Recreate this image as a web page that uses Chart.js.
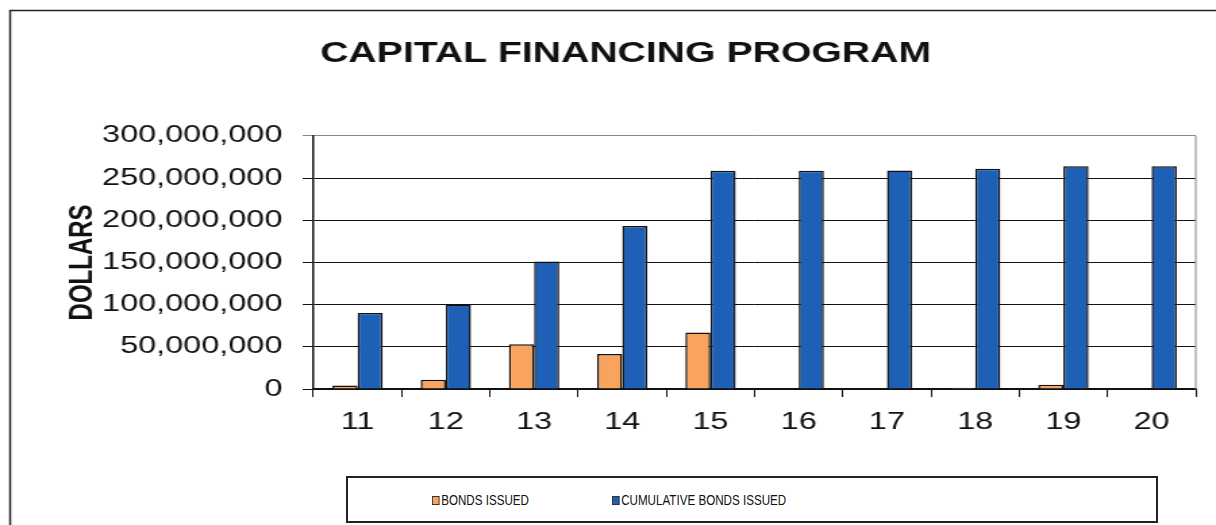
<!DOCTYPE html>
<html>
<head>
<meta charset="utf-8">
<script src="https://cdn.jsdelivr.net/npm/chart.js@4.4.1/dist/chart.umd.min.js"></script>
<style>
  html, body { margin: 0; padding: 0; background: #fff; }
  #wrap { position: relative; width: 1216px; height: 525px; overflow: hidden; }
  #chart { position: absolute; left: 0; top: 0; }
  #legend {
    position: absolute; left: 346px; top: 476px; width: 808px; height: 43px;
    border: 2px solid #222; background: #fff;
    font-family: 'Liberation Sans', Arial, sans-serif; font-size: 14px; color: #111;
  }
  #legend .item {
    display: flex; align-items: center; position: absolute; top: 14px;
    transform: scaleX(0.83); transform-origin: left center; white-space: nowrap;
  }
  #legend .box { width: 7px; height: 7px; border: 1.5px solid #333; margin-right: 2px; }
</style>
</head>
<body>
<div id="wrap">
  <!-- the original picture is stretched sideways, so the canvas is drawn narrow and widened -->
  <canvas id="chart" width="900" height="525" style="width:1216px;height:525px"></canvas>
  <div id="legend"></div>
</div>
<script>
const years = ['11', '12', '13', '14', '15', '16', '17', '18', '19', '20'];
const bondsIssued = [4000000, 11000000, 53000000, 41500000, 67000000, 0, 0, 1500000, 5000000, 0];
const cumulativeBonds = [90000000, 100000000, 151000000, 193000000, 258500000, 258500000, 259000000, 261000000, 264000000, 264000000];
const seriesNames = ['BONDS ISSUED', 'CUMULATIVE BONDS ISSUED'];
const seriesColors = ['#f8a35e', '#1d60b6'];
const yMax = 300000000;
const yStep = 50000000;

const font = "'Liberation Sans', Arial, sans-serif";

// frame round the whole chart and the grey right edge of the plot
const framePlugin = {
  id: 'frame',
  beforeDraw(chart) {
    const ctx = chart.ctx;
    ctx.save();
    ctx.fillStyle = '#fff';
    ctx.fillRect(0, 0, chart.width, chart.height);
    ctx.restore();
  },
  afterDraw(chart) {
    const ctx = chart.ctx;
    const a = chart.chartArea;
    ctx.save();
    ctx.strokeStyle = '#888';
    ctx.lineWidth = 1;
    ctx.beginPath();
    ctx.moveTo(a.right, a.top);
    ctx.lineTo(a.right, a.bottom);
    ctx.stroke();
    ctx.strokeStyle = '#222';
    ctx.lineWidth = 1.5;
    ctx.beginPath();
    ctx.moveTo(7.5, chart.height + 5);
    ctx.lineTo(7.5, 10.5);
    ctx.lineTo(chart.width + 5, 10.5);
    ctx.stroke();
    ctx.restore();
  }
};

const ctx = document.getElementById('chart').getContext('2d');
const chart = new Chart(ctx, {
  type: 'bar',
  data: {
    labels: years,
    datasets: [
      {
        label: seriesNames[0],
        data: bondsIssued,
        backgroundColor: seriesColors[0],
        borderColor: '#111',
        borderWidth: 1.5,
      },
      {
        label: seriesNames[1],
        data: cumulativeBonds,
        backgroundColor: seriesColors[1],
        borderColor: '#111',
        borderWidth: 1.5,
      },
    ],
  },
  options: {
    responsive: false,
    animation: false,
    devicePixelRatio: 1,
    layout: { padding: { left: 41, right: 15, top: 0, bottom: 0 } },
    datasets: { bar: { categoryPercentage: 0.57, barPercentage: 1 } },
    plugins: {
      legend: { display: false },
      tooltip: { enabled: false },
      title: {
        display: true,
        text: 'CAPITAL FINANCING PROGRAM',
        color: '#111',
        font: { family: font, size: 29, weight: 'bold' },
        padding: { top: 37, bottom: 64 },
      },
    },
    scales: {
      x: {
        grid: { drawOnChartArea: false, drawTicks: true, tickLength: 8, color: '#111', lineWidth: 1 },
        border: { color: '#111', width: 1.5 },
        ticks: { color: '#111', font: { family: font, size: 24 }, padding: 11 },
        afterFit: (s) => { s.height = 136; },
      },
      y: {
        min: 0,
        max: yMax,
        ticks: {
          stepSize: yStep,
          color: '#111',
          font: { family: font, size: 24 },
          padding: 15,
          callback: (v) => v.toLocaleString('en-US'),
        },
        grid: {
          color: (c) => (c.tick && c.tick.value === yMax ? '#888' : '#111'),
          lineWidth: 1,
          tickLength: 8,
        },
        border: { color: '#111', width: 1.5 },
        title: {
          display: true,
          text: 'DOLLARS',
          color: '#111',
          font: { family: font, size: 24, weight: 'bold' },
          padding: { top: 6, bottom: 0 },
        },
        afterFit: (s) => { s.width = 191; },
      },
    },
  },
  plugins: [framePlugin],
});

// legend box under the chart, built from the dataset names and colours
const legend = document.getElementById('legend');
const itemLeft = [84, 264];
chart.data.datasets.forEach((ds, i) => {
  const item = document.createElement('div');
  item.className = 'item';
  item.style.left = itemLeft[i] + 'px';
  const box = document.createElement('span');
  box.className = 'box';
  box.style.background = ds.backgroundColor;
  const txt = document.createElement('span');
  txt.textContent = ds.label;
  item.appendChild(box);
  item.appendChild(txt);
  legend.appendChild(item);
});
</script>
</body>
</html>
